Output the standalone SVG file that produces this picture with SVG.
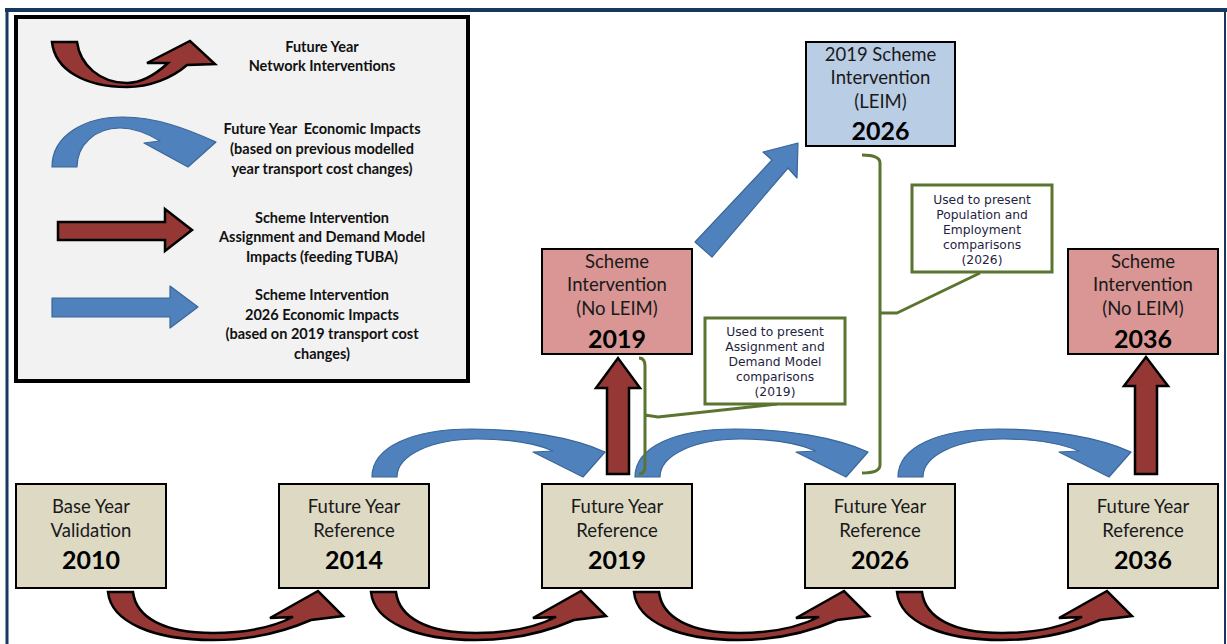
<svg xmlns="http://www.w3.org/2000/svg" xmlns:xlink="http://www.w3.org/1999/xlink" width="1227" height="644" viewBox="0 0 1227 644">
<style>
.box{stroke:#000;stroke-width:2}
.beige{fill:#ddd9c3}
.pink{fill:#d99694}
.lblue{fill:#b9cde5}
.t{font-family:Lato,"Liberation Sans",sans-serif;font-size:18.5px;fill:#1a1a1a;text-anchor:middle}
.y{font-weight:bold;font-size:25px;fill:#000}
.lg{font-family:Lato,"Liberation Sans",sans-serif;font-weight:bold;font-size:14.5px;text-anchor:middle;fill:#111}
.co{font-family:"DejaVu Sans",Verdana,sans-serif;font-size:12.3px;fill:#1f1f3f;text-anchor:middle}
.br{fill:none;stroke:#5b7530;stroke-width:3;stroke-linejoin:round}
.cobox{fill:#fff;stroke:#5b7530;stroke-width:3}
.red{fill:#953735;stroke:#000;stroke-width:2.5;stroke-linejoin:miter}
.blue{fill:#4f81bd;stroke:#3a6698;stroke-width:1.2;stroke-linejoin:round}
</style>
<defs>
<path id="arch" d="M0,0 C0,-30 40,-48 100,-48 C150,-48 200,-40 233,-25 L211,0 L161,-25 L181,-26 C160,-35 130,-38 105,-38 C60,-38 25,-22 25,0 Z"/>
<path id="uarr" d="M0,0 C3,30 45,48 105,48 C145,48 180,38 203,28 L235,24 L210,-1 L162,26 L185,25 C165,35 140,41 105,41 C55,41 28,25 25,0 Z"/>
</defs>
<rect width="1227" height="644" fill="#fff"/>
<g id="frame">
<line x1="5" y1="10" x2="1227" y2="10" stroke="#17375e" stroke-width="4"/>
<line x1="7" y1="8" x2="7" y2="644" stroke="#17375e" stroke-width="3"/>
<line x1="1225" y1="8" x2="1225" y2="644" stroke="#17375e" stroke-width="2"/>
</g>
<g id="legend">
<rect x="16" y="17" width="452" height="364" fill="#f2f2f2" stroke="#000" stroke-width="4"/>
<path class="red" d="M52,42 C55,70 85,87 127,87 C150,87 172,78 187,65 L215,64 L190,41 L147,63 L168,63 C155,75 142,83 127,83 C100,83 80,65 77,42 Z"/>
<text class="lg" x="322" y="52">Future Year</text>
<text class="lg" x="322" y="71">Network Interventions</text>
<path class="blue" d="M52,167 C52,135 85,117 123,117 C155,117 185,128 216,142 L188,167 L144,143 L160,141 C145,132 133,128 120,128 C95,128 77,145 77,167 Z"/>
<text class="lg" x="322" y="134" xml:space="preserve">Future Year  Economic Impacts</text>
<text class="lg" x="322" y="154">(based on previous modelled</text>
<text class="lg" x="322" y="174">year transport cost changes)</text>
<polygon class="red" points="58,222 165,222 165,209 192,230 165,251 165,240 58,240"/>
<text class="lg" x="322" y="223">Scheme Intervention</text>
<text class="lg" x="322" y="242">Assignment and Demand Model</text>
<text class="lg" x="322" y="262">Impacts (feeding TUBA)</text>
<polygon class="blue" points="52,298 170,298 170,286 198,307 170,328 170,317 52,317"/>
<text class="lg" x="322" y="300">Scheme Intervention</text>
<text class="lg" x="322" y="320">2026 Economic Impacts</text>
<text class="lg" x="322" y="339">(based on 2019 transport cost</text>
<text class="lg" x="322" y="359">changes)</text>
</g>
<g id="connectors">
<use href="#arch" xlink:href="#arch" class="blue" transform="translate(372,477)"/>
<use href="#arch" xlink:href="#arch" class="blue" transform="translate(635,477)"/>
<use href="#arch" xlink:href="#arch" class="blue" transform="translate(898,477)"/>
<use href="#uarr" xlink:href="#uarr" class="red" transform="translate(108,592)"/>
<use href="#uarr" xlink:href="#uarr" class="red" transform="translate(371,592)"/>
<use href="#uarr" xlink:href="#uarr" class="red" transform="translate(634,592)"/>
<use href="#uarr" xlink:href="#uarr" class="red" transform="translate(897,592)"/>
<polygon class="red" points="607,474 607,388 596,388 618,358 640,388 629,388 629,474"/>
<polygon class="red" points="1135,474 1135,386 1124,386 1146,357 1168,386 1157,386 1157,474"/>
<polygon class="blue" points="695,242 772,160 763,152 798,143 797,178 788,168 712,257"/>
<path class="br" d="M639,358 Q645,358 645,366 V466 Q645,474 639,474 M645,415 L658,417 L777,404"/>
<path class="br" d="M862,155 Q880,155 880,163 V465 Q880,473 862,473 M880,313 L897,313 L980,273"/>
</g>
<g id="callout-2019">
<rect class="cobox" x="705" y="318" width="140" height="86"/>
<text class="co" x="775" y="336">Used to present</text>
<text class="co" x="775" y="351">Assignment and</text>
<text class="co" x="775" y="366">Demand Model</text>
<text class="co" x="775" y="381">comparisons</text>
<text class="co" x="775" y="396">(2019)</text>
</g>
<g id="callout-2026">
<rect class="cobox" x="912" y="185" width="140" height="87"/>
<text class="co" x="982" y="204">Used to present</text>
<text class="co" x="982" y="219">Population and</text>
<text class="co" x="982" y="234">Employment</text>
<text class="co" x="982" y="249">comparisons</text>
<text class="co" x="982" y="264">(2026)</text>
</g>
<g id="base-2010">
<rect class="box beige" x="16" y="484" width="150" height="104"/>
<text class="t" x="91" y="513">Base Year</text>
<text class="t" x="91" y="537">Validation</text>
<text class="t y" x="91" y="569">2010</text>
</g>
<g id="ref-2014">
<rect class="box beige" x="279" y="484" width="150" height="104"/>
<text class="t" x="354" y="513">Future Year</text>
<text class="t" x="354" y="537">Reference</text>
<text class="t y" x="354" y="569">2014</text>
</g>
<g id="ref-2019">
<rect class="box beige" x="542" y="484" width="150" height="104"/>
<text class="t" x="617" y="513">Future Year</text>
<text class="t" x="617" y="537">Reference</text>
<text class="t y" x="617" y="569">2019</text>
</g>
<g id="ref-2026">
<rect class="box beige" x="805" y="484" width="150" height="104"/>
<text class="t" x="880" y="513">Future Year</text>
<text class="t" x="880" y="537">Reference</text>
<text class="t y" x="880" y="569">2026</text>
</g>
<g id="ref-2036">
<rect class="box beige" x="1068" y="484" width="150" height="104"/>
<text class="t" x="1143" y="513">Future Year</text>
<text class="t" x="1143" y="537">Reference</text>
<text class="t y" x="1143" y="569">2036</text>
</g>
<g id="scheme-2019">
<rect class="box pink" x="542" y="249" width="150" height="105"/>
<text class="t" x="617" y="268">Scheme</text>
<text class="t" x="617" y="291">Intervention</text>
<text class="t" x="617" y="315">(No LEIM)</text>
<text class="t y" x="617" y="348">2019</text>
</g>
<g id="scheme-2036">
<rect class="box pink" x="1068" y="249" width="150" height="105"/>
<text class="t" x="1143" y="268">Scheme</text>
<text class="t" x="1143" y="291">Intervention</text>
<text class="t" x="1143" y="315">(No LEIM)</text>
<text class="t y" x="1143" y="348">2036</text>
</g>
<g id="leim-2026">
<rect class="box lblue" x="806" y="42" width="149" height="104"/>
<text class="t" x="880.5" y="61">2019 Scheme</text>
<text class="t" x="880.5" y="84">Intervention</text>
<text class="t" x="880.5" y="108">(LEIM)</text>
<text class="t y" x="880.5" y="140">2026</text>
</g>
</svg>
